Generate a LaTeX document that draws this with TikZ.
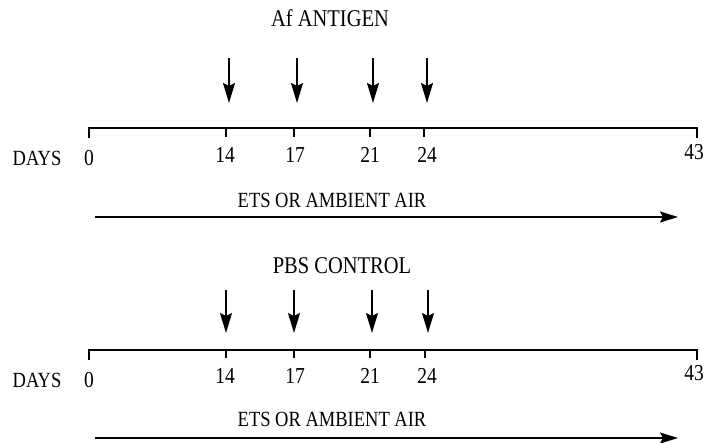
\documentclass[tikz,border=0pt]{standalone}
\usepackage{fontspec}
\setmainfont{Liberation Serif}
\usetikzlibrary{arrows.meta}
\newcommand{\tall}[1]{\scalebox{1}[1.17]{#1}}
\begin{document}
\begin{tikzpicture}[x=1pt,y=-1pt, line width=1.4pt,
  lbl/.style={font=\fontsize{18.5}{20}\selectfont, inner sep=0pt},
  num/.style={font=\fontsize{19.5}{20}\selectfont, inner sep=0pt},
  hdr/.style={font=\fontsize{20.5}{22}\selectfont, inner sep=0pt},
  dose/.style={line width=1.7pt,-{Stealth[length=20pt,width=12pt,inset=3pt]}},
  expo/.style={-{Stealth[length=18pt,width=11pt,inset=3pt]}},
  tick/.style={line width=1.1pt}]
\useasboundingbox (0,0) rectangle (707,443);
% ---------- top panel ----------
\node[hdr] (h1) at (330,18) {\tall{Af ANTIGEN}};
\foreach \n/\x in {a/229,b/297,c/373,d/427}{
  \coordinate (t\n s) at (\x,58);
  \coordinate (t\n e) at (\x,103);
  \draw[dose] (t\n s) -- (t\n e);
}
\coordinate (ax1a) at (89,138);
\coordinate (ax1b) at (89,128);
\coordinate (ax1c) at (697,128);
\coordinate (ax1d) at (697,138);
\draw (ax1a) -- (ax1b) -- (ax1c) -- (ax1d);
\foreach \n/\x in {a/226,b/294,c/370,d/424}{
  \coordinate (tk1\n) at (\x,128);
  \coordinate (tk1\n e) at (\x,137);
  \draw[tick] (tk1\n) -- (tk1\n e);
}
\node[num] (l1a) at (225,155) {\tall{14}};
\node[num] (l1b) at (295,155) {\tall{17}};
\node[num] (l1c) at (370,155) {\tall{21}};
\node[num] (l1d) at (427,155) {\tall{24}};
\node[num] (l1e) at (694,152) {\tall{43}};
\node[lbl] (d1) at (37,158) {\tall{DAYS}};
\node[num] (z1) at (89,158) {\tall{0}};
\node[lbl] (e1) at (332,200) {\tall{ETS OR AMBIENT AIR}};
\coordinate (e1s) at (95,217);
\coordinate (e1e) at (678,217);
\draw[expo] (e1s) -- (e1e);
% ---------- bottom panel ----------
\node[hdr] (h2) at (342,266) {\tall{PBS CONTROL}};
\foreach \n/\x in {a/226,b/294,c/372,d/428}{
  \coordinate (b\n s) at (\x,290);
  \coordinate (b\n e) at (\x,333);
  \draw[dose] (b\n s) -- (b\n e);
}
\coordinate (ax2a) at (89,360);
\coordinate (ax2b) at (89,350);
\coordinate (ax2c) at (697,350);
\coordinate (ax2d) at (697,360);
\draw (ax2a) -- (ax2b) -- (ax2c) -- (ax2d);
\foreach \n/\x in {a/226,b/294,c/370,d/425}{
  \coordinate (tk2\n) at (\x,350);
  \coordinate (tk2\n e) at (\x,358);
  \draw[tick] (tk2\n) -- (tk2\n e);
}
\node[num] (l2a) at (225,376) {\tall{14}};
\node[num] (l2b) at (295,376) {\tall{17}};
\node[num] (l2c) at (370,376) {\tall{21}};
\node[num] (l2d) at (427,376) {\tall{24}};
\node[num] (l2e) at (694,373) {\tall{43}};
\node[lbl] (d2) at (37,380) {\tall{DAYS}};
\node[num] (z2) at (89,380) {\tall{0}};
\node[lbl] (e2) at (332,419) {\tall{ETS OR AMBIENT AIR}};
\coordinate (e2s) at (95,438);
\coordinate (e2e) at (678,438);
\draw[expo] (e2s) -- (e2e);
\end{tikzpicture}
\end{document}
